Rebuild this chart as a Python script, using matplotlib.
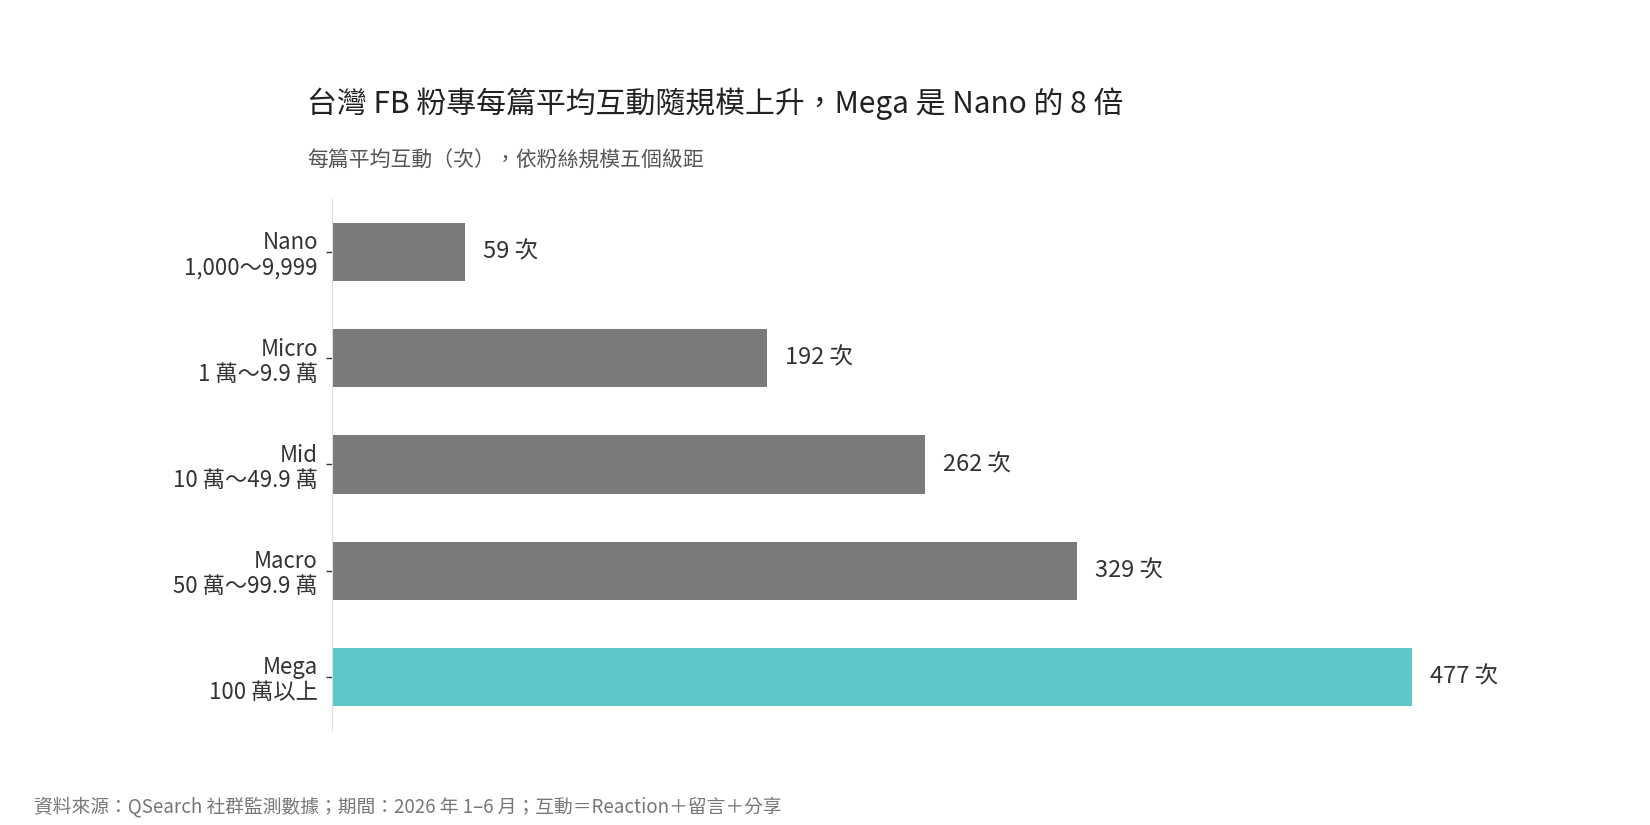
import matplotlib
matplotlib.use("Agg")
import matplotlib.pyplot as plt

plt.rcParams['font.family'] = ['Noto Sans CJK TC', 'DejaVu Sans']

categories = ["Nano\n1,000～9,999", "Micro\n1 萬～9.9 萬", "Mid\n10 萬～49.9 萬",
              "Macro\n50 萬～99.9 萬", "Mega\n100 萬以上"]
values = [59, 192, 262, 329, 477]
colors = ["#7a7a7a"] * 4 + ["#5cc7ca"]

fig = plt.figure(figsize=(16.5, 8.25), dpi=100)
ax = fig.add_axes([0.201, 0.115, 0.714, 0.644])
y = list(range(len(values)))
ax.barh(y, values, height=0.55, color=colors)
ax.set_ylim(len(values) - 0.5, -0.5)
ax.set_xlim(0, 520)
ax.set_yticks(y)
ax.set_yticklabels(categories, fontsize=16, color="#333333", linespacing=1.1)
ax.tick_params(axis='y', length=4, width=1, color="#333333", pad=6)
ax.set_xticks([])
for s in ["top", "right", "bottom"]:
    ax.spines[s].set_visible(False)
ax.spines["left"].set_color("#dddddd")
for yi, v in zip(y, values):
    ax.text(v + 8, yi, f"{v} 次", va="center", ha="left", fontsize=17, color="#333333")

fig.text(0.186, 0.874, "台灣 FB 粉專每篇平均互動隨規模上升，Mega 是 Nano 的 8 倍",
         fontsize=21.5, color="#222222", va="center", ha="left")
fig.text(0.186, 0.805, "每篇平均互動（次），依粉絲規模五個級距",
         fontsize=15, color="#555555", va="center", ha="left")
fig.text(0.0205, 0.022, "資料來源：QSearch 社群監測數據；期間：2026 年 1–6 月；互動＝Reaction＋留言＋分享",
         fontsize=13.5, color="#777777", va="center", ha="left")

fig.savefig("out.png", dpi=100, facecolor="white")
